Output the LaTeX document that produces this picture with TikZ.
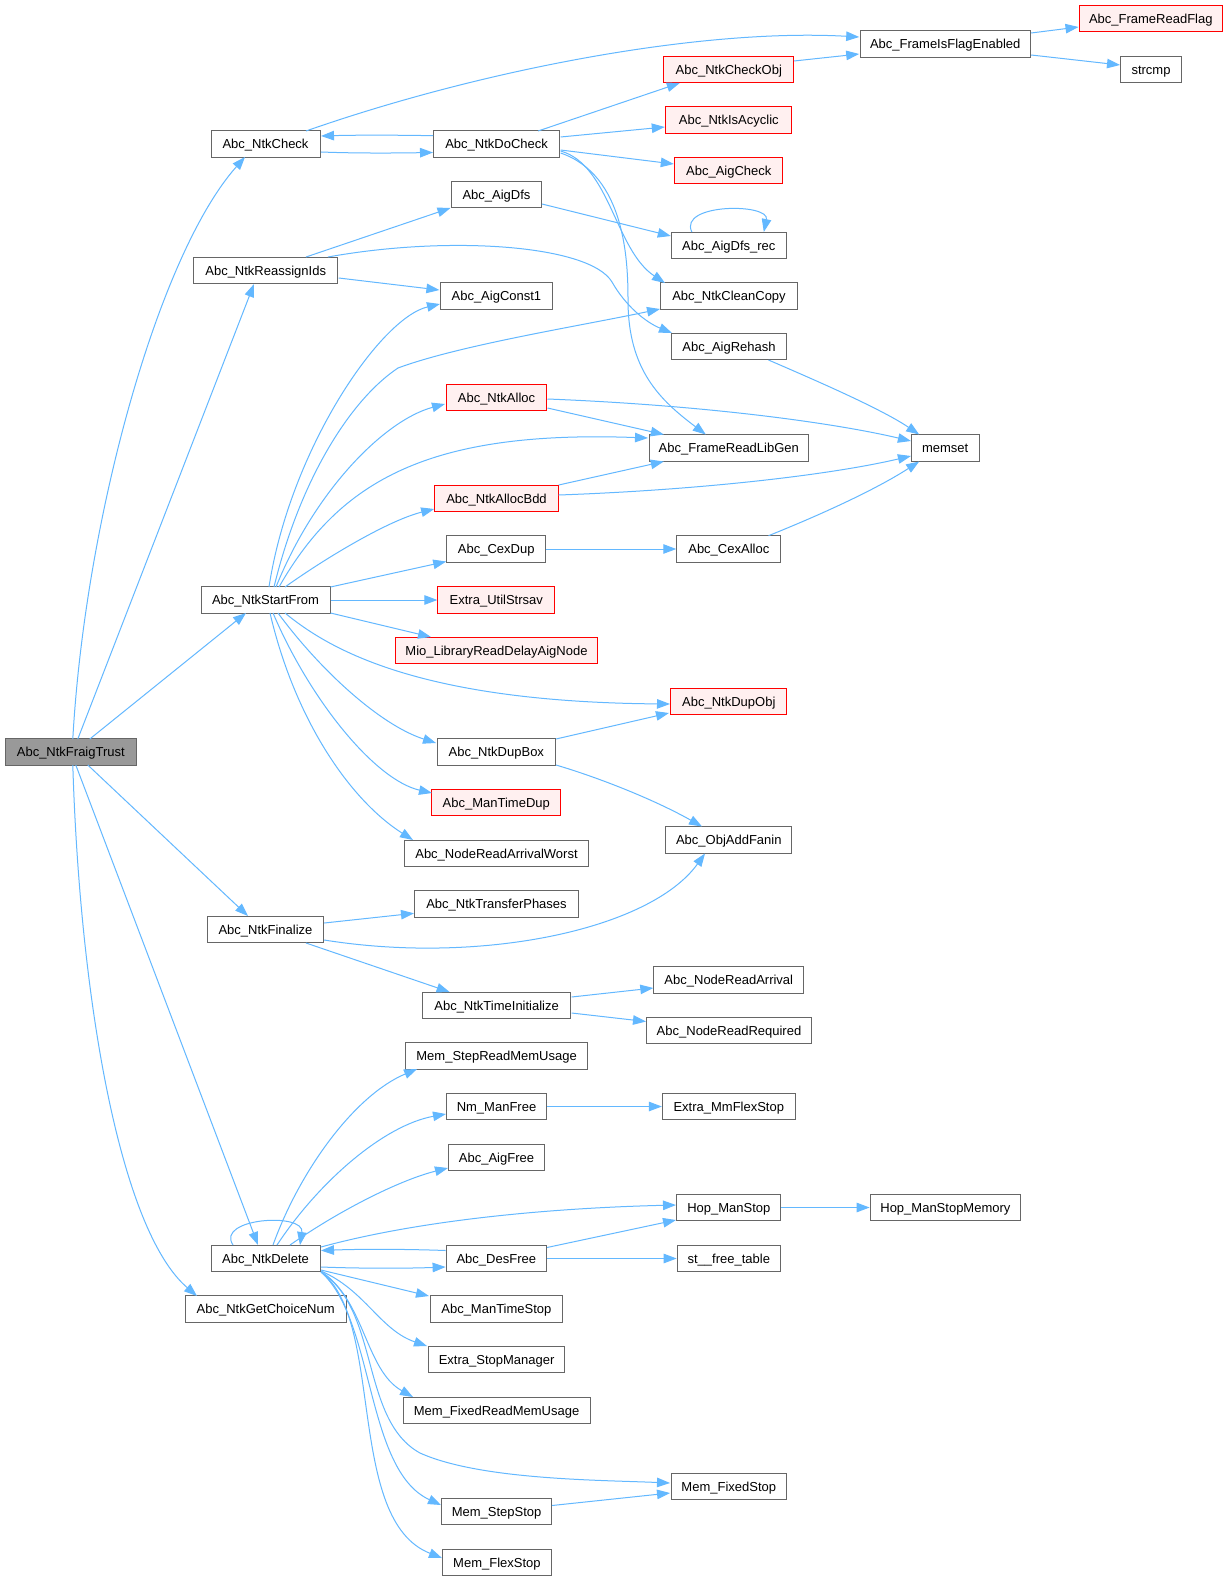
\documentclass[tikz,border=0pt]{standalone}
\usepackage{fontspec}
\setmainfont{Liberation Sans}
\usetikzlibrary{arrows.meta,calc}
\definecolor{edgeblue}{HTML}{63B8FF}
\definecolor{boxgray}{HTML}{666666}
\definecolor{rootfill}{HTML}{999999}
\definecolor{redfill}{HTML}{FFF0F0}
\definecolor{redline}{HTML}{FF0000}
\begin{document}
\begin{tikzpicture}[x=1pt,y=-1pt,
  fn/.style={draw=boxgray, line width=1pt, fill=white, minimum height=26.5pt, inner sep=0pt, text height=9.5pt, text depth=0.2pt, font=\fontsize{13}{15}\selectfont, text=black},
  fnred/.style={fn, draw=redline, fill=redfill},
  fnroot/.style={fn, fill=rootfill},
  call/.style={draw=edgeblue, line width=1pt, -{Triangle[length=13pt,width=9.5pt]}}]
\useasboundingbox[fill=white] (0,0) rectangle (1229,1581);

% column 1
\node[fnroot, minimum width=131pt] (fraig) at (70.8,752) {Abc\_NtkFraigTrust};
% column 2
\node[fn, minimum width=109pt] (check) at (265.5,144) {Abc\_NtkCheck};
\node[fn, minimum width=144.5pt] (reassign) at (265.7,270.5) {Abc\_NtkReassignIds};
\node[fn, minimum width=129pt] (start) at (265.5,600) {Abc\_NtkStartFrom};
\node[fn, minimum width=116.5pt] (final) at (265.5,929.5) {Abc\_NtkFinalize};
\node[fn, minimum width=109pt] (del) at (265.5,1258.5) {Abc\_NtkDelete};
\node[fn, minimum width=161pt] (choice) at (265.7,1309) {Abc\_NtkGetChoiceNum};
% column 3
\node[fn, minimum width=126.3pt] (docheck) at (496.6,144) {Abc\_NtkDoCheck};
\node[fn, minimum width=90.3pt] (aigdfs) at (496.5,194.5) {Abc\_AigDfs};
\node[fn, minimum width=111.8pt] (const1) at (496.4,296) {Abc\_AigConst1};
\node[fnred, minimum width=100.7pt] (alloc) at (496.5,397.5) {Abc\_NtkAlloc};
\node[fnred, minimum width=123.5pt] (allocbdd) at (496.5,498.5) {Abc\_NtkAllocBdd};
\node[fn, minimum width=98.6pt] (cexdup) at (496.2,549) {Abc\_CexDup};
\node[fnred, minimum width=116.9pt] (strsav) at (496.3,600) {Extra\_UtilStrsav};
\node[fnred, minimum width=202.7pt] (mio) at (496.5,650.5) {Mio\_LibraryReadDelayAigNode};
\node[fn, minimum width=118.5pt] (dupbox) at (496.3,752) {Abc\_NtkDupBox};
\node[fnred, minimum width=128.7pt] (mantimedup) at (496.3,802.5) {Abc\_ManTimeDup};
\node[fn, minimum width=183.7pt] (arrworst) at (496.5,853.5) {Abc\_NodeReadArrivalWorst};
\node[fn, minimum width=163.9pt] (transfer) at (496.5,904) {Abc\_NtkTransferPhases};
\node[fn, minimum width=148.5pt] (timeinit) at (496.6,1005.5) {Abc\_NtkTimeInitialize};
\node[fn, minimum width=181.7pt] (stepread) at (496.6,1056) {Mem\_StepReadMemUsage};
\node[fn, minimum width=99.9pt] (nmfree) at (496.5,1106.5) {Nm\_ManFree};
\node[fn, minimum width=95.9pt] (aigfree) at (496.5,1157.5) {Abc\_AigFree};
\node[fn, minimum width=100.4pt] (desfree) at (496.3,1258.5) {Abc\_DesFree};
\node[fn, minimum width=131.8pt] (mantimestop) at (496.4,1309) {Abc\_ManTimeStop};
\node[fn, minimum width=135.6pt] (stopmgr) at (496.6,1359.5) {Extra\_StopManager};
\node[fn, minimum width=186.8pt] (fixedread) at (496.6,1410.5) {Mem\_FixedReadMemUsage};
\node[fn, minimum width=110.4pt] (stepstop) at (496.6,1511.5) {Mem\_StepStop};
\node[fn, minimum width=108.8pt] (flexstop) at (496.9,1562.5) {Mem\_FlexStop};
% column 4
\node[fnred, minimum width=129.7pt] (checkobj) at (728.8,69.5) {Abc\_NtkCheckObj};
\node[fnred, minimum width=125.7pt] (acyclic) at (728.8,120) {Abc\_NtkIsAcyclic};
\node[fnred, minimum width=108.1pt] (aigcheck) at (728.8,170.5) {Abc\_AigCheck};
\node[fn, minimum width=115.3pt] (dfsrec) at (728.8,245.5) {Abc\_AigDfs\_rec};
\node[fn, minimum width=136.6pt] (cleancopy) at (729,296) {Abc\_NtkCleanCopy};
\node[fn, minimum width=114.9pt] (rehash) at (729,346.5) {Abc\_AigRehash};
\node[fn, minimum width=159.5pt] (libgen) at (728.8,448) {Abc\_FrameReadLibGen};
\node[fn, minimum width=104.1pt] (cexalloc) at (728.8,549) {Abc\_CexAlloc};
\node[fnred, minimum width=116.1pt] (dupobj) at (728.8,701.5) {Abc\_NtkDupObj};
\node[fn, minimum width=125.7pt] (addfanin) at (728.8,840) {Abc\_ObjAddFanin};
\node[fn, minimum width=149.9pt] (arrival) at (728.8,980) {Abc\_NodeReadArrival};
\node[fn, minimum width=164.7pt] (required) at (729,1030.5) {Abc\_NodeReadRequired};
\node[fn, minimum width=132.9pt] (mmflex) at (728.8,1106.5) {Extra\_MmFlexStop};
\node[fn, minimum width=104.1pt] (hopstop) at (728.8,1207.5) {Hop\_ManStop};
\node[fn, minimum width=103.3pt] (freetable) at (728.8,1258.5) {st\_\_free\_table};
\node[fn, minimum width=115.6pt] (fixedstop) at (728.8,1486.5) {Mem\_FixedStop};
% column 5
\node[fn, minimum width=170.3pt] (flagen) at (945.2,44) {Abc\_FrameIsFlagEnabled};
\node[fn, minimum width=67.6pt] (memset) at (945.2,448) {memset};
\node[fn, minimum width=150.6pt] (hopmem) at (945.4,1207.5) {Hop\_ManStopMemory};
% column 6
\node[fnred, minimum width=143.5pt] (readflag) at (1150.8,18.5) {Abc\_FrameReadFlag};
\node[fn, minimum width=60.3pt] (strcmp) at (1151,69.5) {strcmp};

% ---- edges from Abc_NtkFraigTrust
\draw[call] ($(fraig)+(2,-13)$) .. controls (85,520) and (158,255) .. ($(check)+(-20.5,13)$);
\draw[call] ($(fraig)+(7,-13)$) -- ($(reassign)+(-11.7,13.5)$);
\draw[call] ($(fraig)+(19,-13)$) -- ($(start)+(-19.5,13)$);
\draw[call] ($(fraig)+(17,13)$) -- ($(final)+(-17.5,-13.5)$);
\draw[call] ($(fraig)+(5,13)$) -- ($(del)+(-7.5,-13.5)$);
\draw[call] ($(fraig)+(2,13)$) .. controls (80,1000) and (120,1230) .. ($(choice)+(-68.7,-13)$);

% ---- Abc_NtkCheck / DoCheck
\draw[call] ($(check)+(40.5,-13)$) .. controls (480,70) and (700,28) .. ($(flagen)+(-86,-7)$);
\draw[call] ($(check)+(55.5,8)$) .. controls (360,153.5) and (400,153) .. ($(docheck)+(-63.6,8.5)$);
\draw[call] ($(docheck)+(-63.6,-8.3)$) .. controls (395,135) and (355,135) .. ($(check)+(55.5,-8)$);
\draw[call] ($(docheck)+(41.5,-13)$) -- ($(checkobj)+(-49,13.5)$);
\draw[call] ($(docheck)+(64,-7)$) -- ($(acyclic)+(-64,7)$);
\draw[call] ($(docheck)+(64,6)$) -- ($(aigcheck)+(-55,-6.5)$);
\draw[call] ($(docheck)+(64,7)$) .. controls (610,165) and (615,250) .. ($(cleancopy)+(-64,-13)$);
\draw[call] ($(docheck)+(64,9)$) .. controls (625,175) and (628,260) .. (628,300) .. controls (628,370) and (660,400) .. ($(libgen)+(-23,-13.5)$);
\draw[call] ($(checkobj)+(65.2,-8.5)$) -- ($(flagen)+(-86,10)$);
\draw[call] ($(flagen)+(86,-11)$) -- ($(readflag)+(-72.3,8.5)$);
\draw[call] ($(flagen)+(86,11)$) -- ($(strcmp)+(-31,-4.5)$);

% ---- Abc_NtkReassignIds
\draw[call] ($(reassign)+(40.3,-13.5)$) -- ($(aigdfs)+(-46,13.5)$);
\draw[call] ($(reassign)+(73,7.5)$) -- ($(const1)+(-57,-6)$);
\draw[call] ($(reassign)+(62.3,-13.5)$) .. controls (450,235) and (590,245) .. (612,282) .. controls (625,305) and (645,322) .. ($(rehash)+(-57,-13.5)$);
\draw[call] ($(aigdfs)+(45.5,9.5)$) -- ($(dfsrec)+(-58,-9.5)$);
\draw[call] ($(dfsrec)+(-37,-13.5)$) .. controls (678,203) and (770,203) .. ($(dfsrec)+(35,-13.5)$);
\draw[call] ($(rehash)+(39.5,13.5)$) .. controls (810,378) and (880,408) .. ($(memset)+(-26,-13.5)$);

% ---- Abc_NtkStartFrom
\draw[call] ($(start)+(3.5,-13)$) .. controls (290,450) and (380,318) .. ($(const1)+(-56.4,8)$);
\draw[call] ($(start)+(8.5,-13)$) .. controls (300,480) and (350,400) .. (398,368) .. controls (460,345) and (580,326) .. ($(cleancopy)+(-69,13)$);
\draw[call] ($(start)+(10.5,-13)$) .. controls (315,490) and (385,420) .. ($(alloc)+(-51.5,6.5)$);
\draw[call] ($(start)+(13.5,-13)$) .. controls (340,480) and (430,430) .. ($(libgen)+(-80.8,-10)$);
\draw[call] ($(start)+(19.5,-13)$) .. controls (330,555) and (390,520) .. ($(allocbdd)+(-62.3,10.5)$);
\draw[call] ($(start)+(65,-13)$) -- ($(cexdup)+(-50,12.5)$);
\draw[call] (start.east) -- (strsav.west);
\draw[call] ($(start)+(65,13)$) -- ($(mio)+(-65.5,-13.5)$);
\draw[call] ($(start)+(19.5,13)$) .. controls (330,650) and (420,702) .. ($(dupobj)+(-58.8,2.5)$);
\draw[call] ($(start)+(12.5,13)$) .. controls (320,670) and (380,725) .. ($(dupbox)+(-60.3,-9)$);
\draw[call] ($(start)+(7.5,13)$) .. controls (310,700) and (375,780) .. ($(mantimedup)+(-64.3,-9.5)$);
\draw[call] ($(start)+(4.5,13)$) .. controls (295,720) and (350,800) .. ($(arrworst)+(-83.5,-13.5)$);

\draw[call] ($(alloc)+(51,10.5)$) -- ($(libgen)+(-65,-13.5)$);
\draw[call] ($(alloc)+(51,1.5)$) .. controls (700,405) and (830,422) .. ($(memset)+(-34.3,-7)$);
\draw[call] ($(allocbdd)+(62.2,-13.5)$) -- ($(libgen)+(-65,13.5)$);
\draw[call] ($(allocbdd)+(62.2,-3.5)$) .. controls (700,490) and (830,475) .. ($(memset)+(-34.3,8)$);
\draw[call] (cexdup.east) -- (cexalloc.west);
\draw[call] ($(cexalloc)+(39.7,-13.3)$) .. controls (820,515) and (875,490) .. ($(memset)+(-26,13.5)$);
\draw[call] ($(dupbox)+(59.7,-13)$) -- ($(dupobj)+(-59.8,11.5)$);
\draw[call] ($(dupbox)+(59.7,13)$) .. controls (600,778) and (655,800) .. ($(addfanin)+(-26.8,-13.5)$);

% ---- Abc_NtkFinalize
\draw[call] ($(final)+(58.7,-6.5)$) -- ($(transfer)+(-82.5,9.3)$);
\draw[call] ($(final)+(58.7,10.5)$) .. controls (480,965) and (650,930) .. ($(addfanin)+(-23.8,13.5)$);
\draw[call] ($(final)+(40.5,13.5)$) -- ($(timeinit)+(-47,-13.5)$);
\draw[call] ($(timeinit)+(75,-8.5)$) -- ($(arrival)+(-75.5,8)$);
\draw[call] ($(timeinit)+(75,7.5)$) -- ($(required)+(-83,-9)$);

% ---- Abc_NtkDelete
\draw[call] ($(del)+(7.5,-13.5)$) .. controls (300,1170) and (355,1095) .. ($(stepread)+(-79.5,13)$);
\draw[call] ($(del)+(11.5,-13.5)$) .. controls (320,1180) and (385,1125) .. ($(nmfree)+(-50.5,7.5)$);
\draw[call] ($(del)+(24.5,-13.5)$) .. controls (340,1210) and (400,1180) .. ($(aigfree)+(-48.5,10.5)$);
\draw[call] ($(del)+(-32.5,-13.5)$) .. controls (215,1218) and (305,1212) .. ($(del)+(34.5,-13.5)$);
\draw[call] ($(del)+(55.5,-11.5)$) .. controls (420,1220) and (550,1208) .. ($(hopstop)+(-52.8,-2.5)$);
\draw[call] ($(del)+(55.5,8.5)$) .. controls (360,1268.5) and (405,1268.5) .. ($(desfree)+(-50.7,8.5)$);
\draw[call] ($(desfree)+(-50.7,-8)$) .. controls (405,1249) and (360,1249) .. ($(del)+(55.5,-8)$);
\draw[call] ($(del)+(55.5,11.5)$) -- ($(mantimestop)+(-67.4,-13)$);
\draw[call] ($(del)+(55.5,12.5)$) .. controls (365,1290) and (380,1330) .. ($(stopmgr)+(-69.6,-13.5)$);
\draw[call] ($(del)+(55.5,13)$) .. controls (365,1300) and (365,1370) .. ($(fixedread)+(-83.6,-13.5)$);
\draw[call] ($(del)+(55.5,13.5)$) .. controls (380,1310) and (360,1420) .. (420,1453) .. controls (480,1480) and (600,1480) .. ($(fixedstop)+(-58.8,-3.5)$);
\draw[call] ($(del)+(55.5,13.5)$) .. controls (375,1320) and (365,1470) .. ($(stepstop)+(-55.6,-6.5)$);
\draw[call] ($(del)+(55.5,13.5)$) .. controls (385,1320) and (345,1520) .. ($(flexstop)+(-54.9,-4.5)$);
\draw[call] ($(desfree)+(50.7,-11)$) -- ($(hopstop)+(-52.8,12.5)$);
\draw[call] (desfree.east) -- (freetable.west);
\draw[call] (hopstop.east) -- (hopmem.west);
\draw[call] (nmfree.east) -- (mmflex.west);
\draw[call] ($(stepstop)+(55.4,-6)$) -- ($(fixedstop)+(-58.8,6.5)$);
\end{tikzpicture}
\end{document}
